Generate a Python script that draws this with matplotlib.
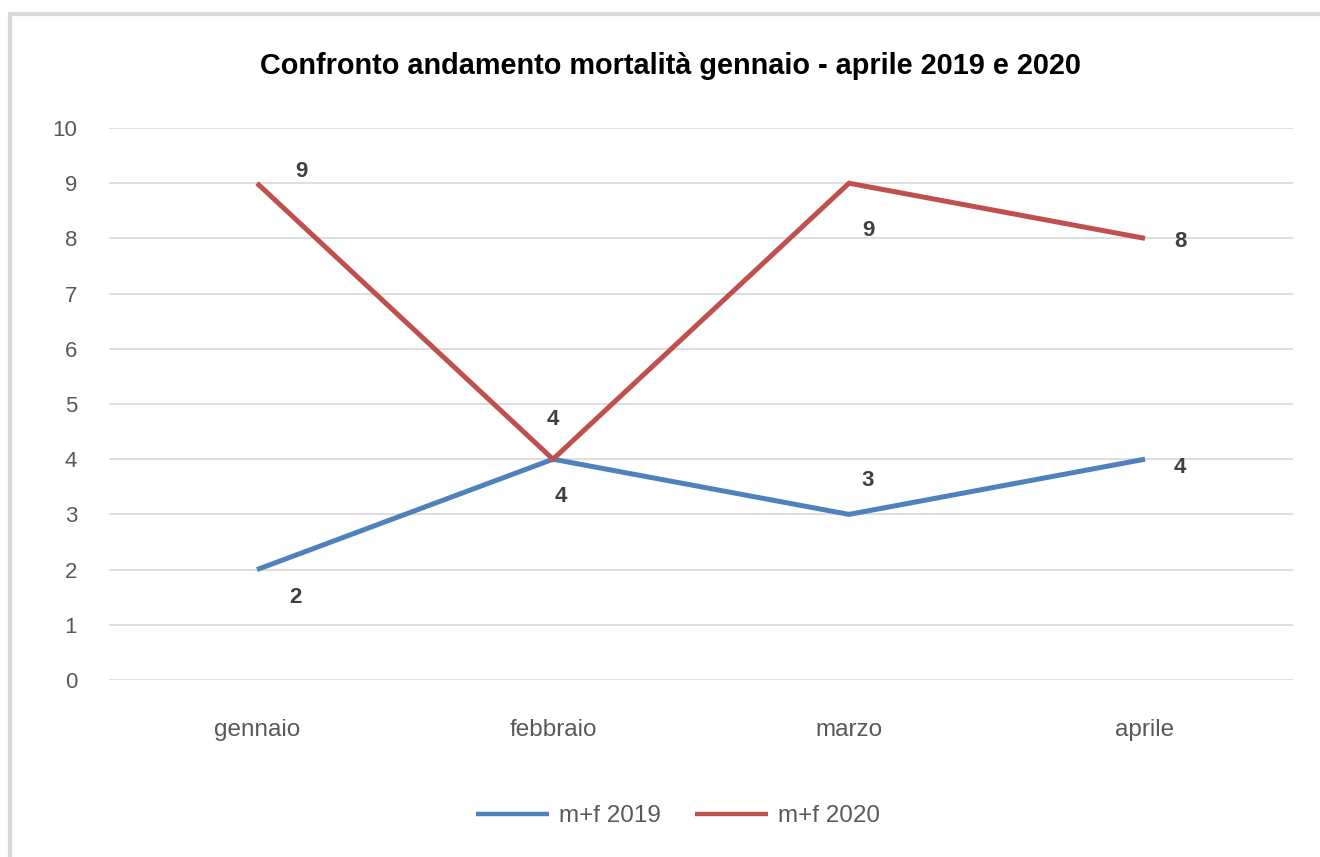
import matplotlib
matplotlib.use("Agg")
import matplotlib.pyplot as plt
from matplotlib.lines import Line2D

categories = ["gennaio", "febbraio", "marzo", "aprile"]
series_2019 = [2, 4, 3, 4]
series_2020 = [9, 4, 9, 8]
labels = ["m+f 2019", "m+f 2020"]
title = "Confronto andamento mortalità gennaio - aprile 2019 e 2020"

plt.rcParams['font.family'] = ['Liberation Sans', 'DejaVu Sans']

W, H = 1320, 857
fig = plt.figure(figsize=(W / 100, H / 100), dpi=100)
fig.patch.set_facecolor("white")

# outer chart border (left and top)
fig.add_artist(Line2D([10 / W, 10 / W], [0, 1 - 12 / H], transform=fig.transFigure,
                      color="#d9d9d9", lw=3, solid_capstyle="butt"))
fig.add_artist(Line2D([8.5 / W, 1], [1 - 13.5 / H, 1 - 13.5 / H], transform=fig.transFigure,
                      color="#d9d9d9", lw=3, solid_capstyle="butt"))

left, right = 109 / W, 1293 / W
bottom, top = 1 - 680 / H, 1 - 128 / H
ax = fig.add_axes([left, bottom, right - left, top - bottom])

x = list(range(len(categories)))
blue = "#4f81bd"
red = "#c0504d"
ax.plot(x, series_2019, color=blue, lw=3.6, solid_capstyle="butt", solid_joinstyle="miter", label=labels[0], zorder=3)
ax.plot(x, series_2020, color=red, lw=3.6, solid_capstyle="butt", solid_joinstyle="miter", label=labels[1], zorder=4)

ax.set_xlim(-0.5, len(categories) - 0.5)
ax.set_ylim(0, 10)
ax.set_yticks(range(0, 11))
ax.set_xticks(x)
ax.set_xticklabels(categories)
ax.grid(axis="y", color="#d9d9d9", lw=1.2)
ax.set_axisbelow(True)
for s in ax.spines.values():
    s.set_visible(False)
ax.tick_params(axis="both", length=0, labelcolor="#595959")
ax.tick_params(axis="y", pad=23, labelsize=16)
ax.tick_params(axis="x", pad=28, labelsize=17.5)

# data labels (offsets in pixels)
offs_2019 = [(38, -28), (8, -37), (19, 34), (35, -8)]
offs_2020 = [(44, 12), (0, 40), (19, -47), (35, -3)]
for xi, v, o in zip(x, series_2019, offs_2019):
    ax.annotate(str(v), (xi, v), xytext=o, textcoords="offset pixels", ha="center", va="center",
                fontsize=16, fontweight="bold", color="#404040")
for xi, v, o in zip(x, series_2020, offs_2020):
    ax.annotate(str(v), (xi, v), xytext=o, textcoords="offset pixels", ha="center", va="center",
                fontsize=16, fontweight="bold", color="#404040")

fig.text(670 / W, 1 - 66 / H, title, ha="center", va="center", fontsize=20.8, fontweight="bold", color="black")

leg = fig.legend(handles=ax.get_lines(), labels=labels, loc="center", bbox_to_anchor=(678 / W, 1 - 816 / H),
                 ncol=2, frameon=False, fontsize=17.5, handlelength=3.0, columnspacing=1.4, handletextpad=0.4)
for t in leg.get_texts():
    t.set_color("#595959")
for h in leg.legend_handles:
    h.set_linewidth(3.2)

fig.savefig("out.png", dpi=100, facecolor="white")
